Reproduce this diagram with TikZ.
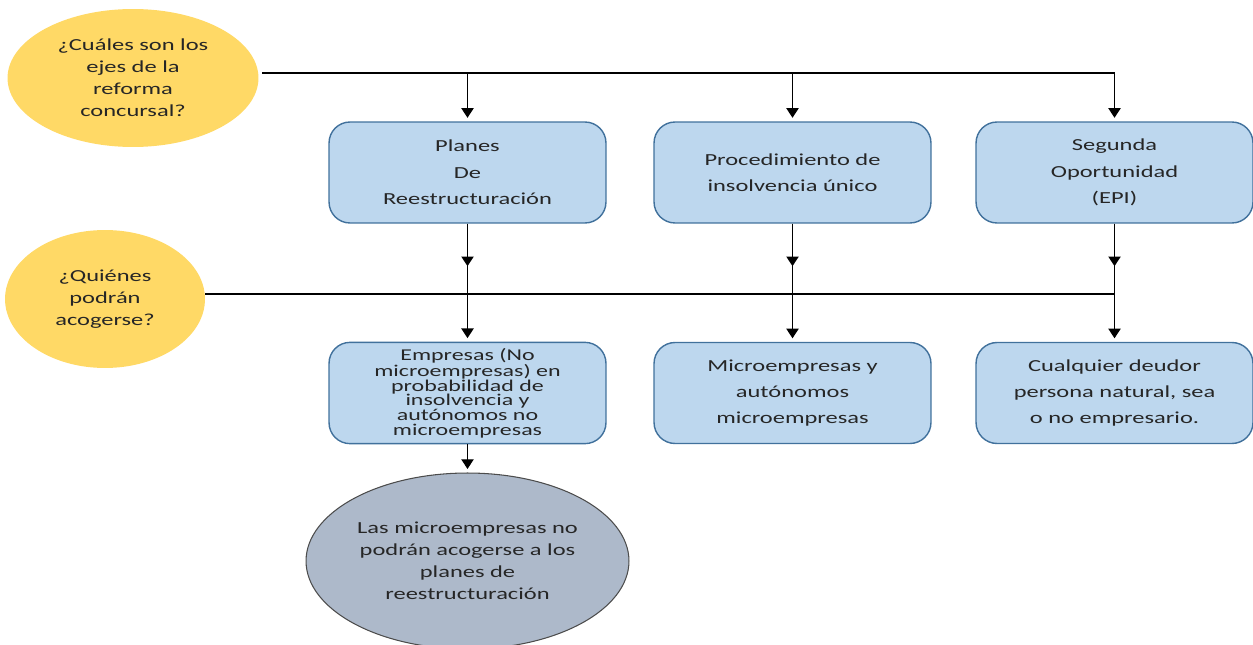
\documentclass[tikz,border=0pt]{standalone}
\usepackage{fontspec}
\setmainfont{Carlito}[FakeStretch=1.45]
\usetikzlibrary{arrows.meta,shapes.geometric}
\definecolor{amarillo}{HTML}{FFD966}
\definecolor{azulc}{HTML}{BDD7EE}
\definecolor{azulb}{HTML}{41719C}
\definecolor{grisc}{HTML}{ADB9CA}
\definecolor{texto}{HTML}{262626}
\tikzset{
caja/.style={draw=azulb,fill=azulc,line width=0.8pt,rounded corners=0.42cm,minimum width=5.54cm,minimum height=2.02cm,align=center,text=texto,font=\fontsize{9.6}{15}\selectfont},
preg/.style={ellipse,fill=amarillo,align=center,text=texto,inner sep=0pt,font=\fontsize{9.6}{12.6}\selectfont},
flecha/.style={-{Triangle[width=7pt,length=5.5pt]},line width=0.7pt,shorten >=2pt},
}
\begin{document}
\begin{tikzpicture}[x=0.02cm,y=-0.02cm]
\useasboundingbox (0,0) rectangle (1253,645);
\node[preg,minimum width=5.02cm,minimum height=2.76cm] (q1) at (133,78) {¿Cuáles son los\\ejes de la\\reforma\\concursal?};
\node[preg,minimum width=4cm,minimum height=2.76cm] (q2) at (105,299) {¿Quiénes\\podrán\\acogerse?};

\node[caja] (plan) at (467.5,172.5) {Planes\\De\\Reestructuración};
\node[caja] (proc) at (792.5,172.5) {Procedimiento de\\insolvencia único};
\node[caja] (seg) at (1114.5,172.5) {Segunda\\Oportunidad\\(EPI)};

\node[caja,font=\fontsize{9.4}{8.3}\selectfont] (emp) at (467.5,393) {Empresas (No\\microempresas) en\\probabilidad de\\insolvencia y\\autónomos no\\microempresas};
\node[caja] (micro) at (792.5,393) {Microempresas y\\autónomos\\microempresas};
\node[caja] (deud) at (1114.5,393) {Cualquier deudor\\persona natural, sea\\o no empresario.};

\node[ellipse,draw=black!70,fill=grisc,line width=0.6pt,minimum width=6.46cm,minimum height=3.52cm,inner sep=0pt,align=center,text=texto,font=\fontsize{9.6}{12.6}\selectfont] (nota) at (467.5,561) {Las microempresas no\\podrán acogerse a los\\planes de\\reestructuración};

\coordinate (b1) at (262,73);
\coordinate (b2) at (205,294);
\draw[line width=0.7pt] (b1) -- (seg.north |- b1);
\draw[line width=0.7pt] (b2) -- (seg.south |- b2);
\foreach \n in {plan,proc,seg}
  \draw[flecha] (\n.north |- b1) -- (\n.north);
\foreach \a/\b in {plan/emp,proc/micro,seg/deud}{
  \draw[flecha] (\a.south) -- ++(0,46);
  \draw[flecha] (\a.south) -- (\b.north);
}
\draw[flecha] (emp.south) -- (nota.north);
\end{tikzpicture}
\end{document}
